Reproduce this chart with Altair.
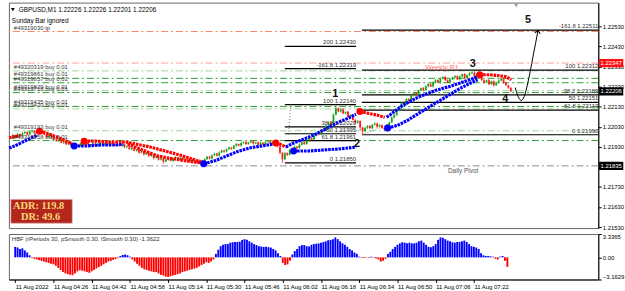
import json
import altair as alt
import pandas as pd

FONT = "Liberation Sans"

# ---------------- data ----------------
# GBPUSD M1 closes, one per minute starting 11 Aug 04:10 (open = previous close)
first_open = 1.21975
closes = [
    1.21972, 1.21988, 1.21978, 1.21994, 1.21983, 1.21998, 1.22004, 1.21991, 1.22006, 1.22010,
    1.21996, 1.22008, 1.22012,
    1.21998, 1.21990, 1.21978, 1.21994, 1.21976, 1.21968, 1.21958, 1.21966, 1.21950, 1.21957,
    1.21942, 1.21952, 1.21936,
    1.21928, 1.21940, 1.21934, 1.21948, 1.21938, 1.21950, 1.21942, 1.21934, 1.21946, 1.21937,
    1.21944, 1.21950, 1.21940, 1.21948, 1.21938, 1.21952, 1.21943, 1.21936, 1.21946, 1.21935,
    1.21942, 1.21928,
    1.21932, 1.21918, 1.21924, 1.21910, 1.21916, 1.21900, 1.21908, 1.21892, 1.21898, 1.21884,
    1.21890, 1.21874, 1.21880, 1.21866, 1.21872, 1.21856,
    1.21866, 1.21874, 1.21860, 1.21870, 1.21878, 1.21864, 1.21876, 1.21866, 1.21872, 1.21858,
    1.21866, 1.21854, 1.21860, 1.21852, 1.21862, 1.21856,
    1.21868, 1.21880, 1.21872, 1.21888, 1.21896, 1.21886, 1.21902, 1.21912, 1.21906, 1.21918,
    1.21926, 1.21920, 1.21936, 1.21944, 1.21936, 1.21948, 1.21954, 1.21944, 1.21952,
    1.21958, 1.21946, 1.21952, 1.21940, 1.21950, 1.21942, 1.21954, 1.21958, 1.21946, 1.21955,
    1.21948,
    1.21932, 1.21900, 1.21868, 1.21898, 1.21890, 1.21914, 1.21908, 1.21930, 1.21924, 1.21940,
    1.21952, 1.21944, 1.21962, 1.21974, 1.21966, 1.21986, 1.21998, 1.21992, 1.22016, 1.22010,
    1.22036, 1.22052, 1.22044, 1.22090, 1.22122,
    1.22106, 1.22116, 1.22096, 1.22104, 1.22080, 1.22088, 1.22064, 1.22050, 1.22058, 1.22026,
    1.22008, 1.22024, 1.22034, 1.22022, 1.22040, 1.22046, 1.22030, 1.22038, 1.22024, 1.22016,
    1.22038, 1.22052, 1.22076, 1.22088, 1.22110, 1.22124, 1.22150, 1.22142, 1.22168, 1.22160,
    1.22184, 1.22198, 1.22188, 1.22210, 1.22222, 1.22212, 1.22232, 1.22242, 1.22230, 1.22250,
    1.22262, 1.22250, 1.22270, 1.22278, 1.22262, 1.22250, 1.22266, 1.22276, 1.22282, 1.22266,
    1.22280, 1.22292, 1.22272, 1.22286, 1.22296, 1.22300, 1.22282, 1.22294, 1.22286, 1.22262,
    1.22250, 1.22262, 1.22242, 1.22256, 1.22236, 1.22250, 1.22260, 1.22270, 1.22250, 1.22236,
    1.22224, 1.22206,
]
# wick lengths in points (0.00001) above / below each body
upper_wick = [
    4, 6, 3, 5, 2, 7, 4, 3, 6, 5, 2, 4, 5, 3, 6, 2, 5, 3, 4, 6,
    3, 5, 2, 4, 6, 3, 5, 2, 6, 4, 3, 5, 4, 2, 6, 3, 5, 4, 2, 5,
    6, 3, 4, 5, 2, 4, 6, 3, 5, 2, 4, 6, 3, 5, 4, 2, 6, 3, 5, 4,
    3, 5, 2, 6, 4, 3, 5, 4, 6, 2, 5, 3, 4, 6, 2, 5, 3, 4, 6, 3,
    5, 4, 6, 3, 5, 2, 6, 4, 3, 5, 6, 4, 3, 5, 2, 6, 4, 5, 3, 6,
    4, 3, 5, 6, 2, 4, 5, 3, 6, 4, 5, 8, 3, 6, 4, 5, 3, 6, 4, 5,
    3, 6, 4, 5, 2, 6, 4, 3, 5, 6, 4, 5, 3, 6, 18, 5, 4, 6, 3, 5,
    4, 6, 3, 5, 4, 3, 6, 4, 5, 3, 6, 4, 5, 3, 4, 6, 3, 5, 4, 6,
    5, 3, 6, 4, 5, 3, 6, 4, 5, 3, 6, 4, 5, 3, 6, 5, 4, 6, 3, 5,
    4, 6, 3, 5, 4, 6, 3, 5, 4, 6, 12, 5, 3, 6, 4, 5, 3, 6, 4, 5,
    4, 6, 3, 5, 4, 3, 2,
]
lower_wick = [
    3, 5, 4, 2, 6, 3, 5, 4, 2, 6, 5, 3, 4, 6, 2, 5, 3, 6, 4, 2,
    5, 3, 6, 2, 4, 5, 3, 6, 4, 2, 5, 3, 6, 4, 5, 2, 6, 3, 4, 5,
    3, 6, 4, 2, 5, 3, 6, 4, 5, 2, 6, 3, 5, 4, 2, 6, 3, 5, 4, 6,
    2, 5, 4, 11, 3, 5, 2, 6, 4, 3, 5, 2, 6, 4, 3, 5, 9, 4, 2, 6,
    4, 3, 5, 6, 2, 4, 5, 3, 6, 4, 2, 5, 3, 6, 4, 5, 2, 6, 4, 3,
    5, 4, 6, 3, 5, 2, 4, 6, 3, 5, 4, 6, 18, 4, 6, 3, 5, 2, 6, 4,
    3, 5, 4, 6, 2, 5, 3, 6, 4, 5, 3, 6, 4, 5, 3, 4, 6, 3, 5, 4,
    6, 3, 5, 4, 12, 18, 4, 6, 3, 5, 4, 6, 3, 5, 8, 4, 6, 3, 5, 4,
    3, 5, 4, 6, 2, 5, 3, 4, 6, 3, 5, 4, 6, 3, 5, 4, 3, 6, 4, 5,
    3, 5, 4, 6, 3, 5, 4, 6, 3, 5, 4, 6, 3, 5, 4, 6, 3, 5, 4, 6,
    3, 5, 4, 6, 3, 5, 4,
]

# HBF histogram, one value per bar
hbf = [
    1.5, 1.4, 1.2, 1.3, 1.0, 0.7, 0.3, -0.1, -0.2, -0.3, -0.4, -0.5, -0.6, -0.7, -0.8, -0.9,
    -1.0, -1.2, -1.5, -1.8, -2.1, -2.3, -2.4, -2.5, -2.55, -2.3, -2.0, -1.85, -1.9, -2.0, -2.1,
    -2.2, -2.0, -1.8, -1.6, -1.4, -1.2, -1.0, -0.8, -0.6, -0.5, -0.35, -0.25, -0.1, 0.2, 0.35,
    0.4, 0.3, 0.1, -0.3, -0.6, -0.9, -1.2, -1.5, -1.7, -1.8, -1.9, -2.0, -2.1, -2.1, -2.3,
    -2.5, -2.6, -2.75, -2.8, -2.7, -2.6, -2.5, -2.4, -2.3, -2.1, -2.0, -1.9, -1.8, -1.7, -1.6,
    -1.5, -1.3, -1.1, -0.9, -0.7, -0.8, -0.6, -0.3, 0.5, 1.1, 1.6, 1.8, 1.9, 1.9, 2.1, 2.15,
    2.2, 2.2, 2.25, 2.5, 2.6, 2.5, 2.3, 2.1, 1.9, 1.75, 1.6, 1.55, 1.5, 1.5, 1.45, 1.4, 1.2,
    1.0, 0.6, 0.2, -0.8, -1.1, -1.0, -0.5, 0.4, 0.9, 1.2, 1.6, 1.75, 1.75, 1.6, 1.55, 1.8, 1.9,
    1.95, 2.0, 2.1, 2.2, 2.3, 2.45, 2.5, 2.6, 2.85, 2.6, 2.3, 2.0, 1.8, 1.5, 1.2, 1.0, 0.7, 0.5,
    0.1, -0.1, -0.1, -0.05, -0.1, 0.1, 0.05, -0.15, -0.3, -0.6, -0.5, -0.2, 0.5, 0.8, 1.2, 1.5,
    1.8, 2.0, 2.15, 2.1, 2.0, 2.1, 2.0, 2.0, 2.1, 2.3, 2.4, 2.1, 1.8, 1.5, 1.45, 1.6, 1.9, 2.5,
    2.85, 2.8, 2.6, 2.4, 2.3, 2.15, 2.1, 2.2, 2.2, 2.3, 2.4, 2.2, 1.9, 1.6, 1.5, 1.4, 1.2, 0.6,
    0.3, 0.2, 0.2, 0.15, 0.1, -0.2, -0.3, 0.1, 0.2, -0.5, -1.36,
]
hbf_min, hbf_max = -3.1629, 3.3365

time_ticks = [0, 16, 32, 48, 64, 80, 96, 112, 128, 144, 160, 176, 192]
time_labels = ["11 Aug 2022", "11 Aug 04:26", "11 Aug 04:42", "11 Aug 04:58", "11 Aug 05:14",
               "11 Aug 05:30", "11 Aug 05:46", "11 Aug 06:02", "11 Aug 06:18", "11 Aug 06:34",
               "11 Aug 06:50", "11 Aug 07:06", "11 Aug 07:22"]
price_ticks = [1.2153, 1.2163, 1.2173, 1.2193, 1.2203, 1.2213, 1.2223, 1.2233, 1.2243, 1.2253]

# horizontal order / level lines
level_price = [1.22504, 1.22347, 1.22308, 1.22271, 1.22249, 1.22210, 1.22200, 1.22131,
               1.22119, 1.22010, 1.21961, 1.21835]
level_color = ["#f4845f", "#ff9c9c", "#9fd49f", "#2e9e2e", "#2e9e2e", "#b5cdb5", "#2e9e2e",
               "#2e9e2e", "#9fd49f", "#9fd49f", "#2e9e2e", "#8c8c8c"]
level_label = ["#49319030 tp", "", "#49320319 buy 0.01", "#49319861 buy 0.01",
               "#49319857 buy 0.01", "#49319829 buy 0.01", "#49319718 buy 0.01",
               "#49319435 buy 0.01", "#49319420 buy 0.01", "#49319193 buy 0.01",
               "#49319058 buy 0.01", ""]

# Fibonacci objects
fib1_text = ["100  1.22140", "38.2  1.22029", "50  1.21995", "61.8  1.21961", "0  1.21850",
             "-161.8  1.22319", "200  1.22430"]
fib1_price = [1.22140, 1.22029, 1.21995, 1.21961, 1.21850, 1.22319, 1.22430]
fib1_span = [113.0, 142.3]
fib2_text = ["-161.8  1.22511", "100  1.22312", "38.2  1.22189", "50  1.22151",
             "61.8  1.22113", "0  1.21990"]
fib2_price = [1.22511, 1.22312, 1.22189, 1.22151, 1.22113, 1.21990]
fib2_span = [144.7, 242.0]
fib_trend_x = [115.4, 114.5, 144.7, 155.9]
fib_trend_p = [1.22140, 1.21990, 1.21990, 1.22042]
fib_trend_id = ["a", "a", "b", "b"]

# trend lines (blue = rising, red = falling), by segment
ma_seg = (["R0"] * 2 + ["A"] * 5 + ["B"] * 5 + ["C"] * 5 + ["D"] * 10 + ["E"] * 8 + ["F"] * 7
          + ["G"] * 3 + ["H"] * 8 + ["I"] * 6 + ["J"] * 4 + ["K"] * 8 + ["L"] * 8 + ["M"] * 5)
ma_x = [-0.5, 4.0,
        -0.5, 1.9, 5.1, 8.4, 11.2,
        12.0, 14.9, 18.2, 21.4, 25.5,
        26.3, 31.2, 37.3, 43.4, 46.6,
        30.4, 35.2, 41.4, 47.5, 51.5, 57.6, 63.7, 69.8, 75.9, 79.2,
        48.3, 52.3, 56.4, 60.5, 64.5, 69.8, 75.1, 78.4,
        79.6, 84.1, 88.2, 93.0, 98.3, 103.6, 108.5,
        109.3, 110.9, 113.4,
        113.4, 116.6, 120.7, 124.8, 128.9, 134.1, 139.0, 142.3,
        116.6, 122.8, 128.9, 135.0, 139.0, 142.3,
        143.9, 147.2, 151.2, 154.1,
        154.9, 158.2, 161.4, 167.5, 174.8, 181.8, 187.9, 192.3,
        155.3, 159.4, 163.5, 168.7, 174.8, 180.9, 186.5, 192.3,
        193.2, 197.2, 201.3, 204.1, 206.2]
ma_p = [1.21975, 1.21985,
        1.21924, 1.21934, 1.21954, 1.21973, 1.21988,
        1.22008, 1.21998, 1.21983, 1.21968, 1.21944,
        1.21934, 1.21934, 1.21939, 1.21939, 1.21944,
        1.21958, 1.21958, 1.21954, 1.21954, 1.21944, 1.21929, 1.21909, 1.21889, 1.21865, 1.21850,
        1.21944, 1.21924, 1.21904, 1.21885, 1.21875, 1.21865, 1.21855, 1.21850,
        1.21845, 1.21860, 1.21880, 1.21904, 1.21924, 1.21934, 1.21944,
        1.21949, 1.21944, 1.21929,
        1.21929, 1.21949, 1.21968, 1.21988, 1.22013, 1.22047, 1.22072, 1.22092,
        1.21909, 1.21909, 1.21914, 1.21919, 1.21924, 1.21929,
        1.22106, 1.22097, 1.22087, 1.22077,
        1.22077, 1.22106, 1.22136, 1.22175, 1.22210, 1.22234, 1.22259, 1.22279,
        1.22023, 1.22037, 1.22062, 1.22101, 1.22146, 1.22190, 1.22230, 1.22264,
        1.22289, 1.22289, 1.22284, 1.22279, 1.22264]
seg_color = {"R0": "#ff0000", "A": "#0000ff", "B": "#ff0000", "C": "#0000ff", "D": "#ff0000",
             "E": "#ff0000", "F": "#0000ff", "G": "#ff0000", "H": "#0000ff", "I": "#0000ff",
             "J": "#ff0000", "K": "#0000ff", "L": "#0000ff", "M": "#ff0000"}
dot_segs = ["B", "C", "D", "F", "G", "I", "J", "L", "M"]

wave_text = ["1", "2", "3", "4", "5"]
wave_x = [133.7, 142.7, 190.3, 203.7, 213.1]
wave_p = [1.22194, 1.21944, 1.22343, 1.22170, 1.22560]

arrow_x = [207.8, 209.0, 210.3, 211.5, 213.1, 215.1, 217.2]
arrow_p = [1.22225, 1.22180, 1.22161, 1.22180, 1.22254, 1.22377, 1.22510]

tag_price = [1.22347, 1.22206, 1.21835]
tag_color = ["#ff1010", "#000000", "#000000"]

header = "GBPUSD,M1  1.22226 1.22226 1.22201 1.22206"
subheader = "Sunday Bar ignored"
hbf_title = "HBF  (rPeriods 30, pSmooth 0.30, lSmooth 0.30)   -1.3622"

# ---------------- frames ----------------
opens = [first_open] + closes[:-1]
bars = pd.DataFrame({"x": list(range(len(closes))), "open": opens, "close": closes,
                     "uw": upper_wick, "lw": lower_wick})
bars["high"] = bars[["open", "close"]].max(axis=1) + bars["uw"] * 1e-5
bars["low"] = bars[["open", "close"]].min(axis=1) - bars["lw"] * 1e-5
bars["col"] = ["#16a816" if c >= o else "#ff1a1a" for o, c in zip(opens, closes)]

levels = pd.DataFrame({"y": level_price, "col": level_color, "label": level_label})
fib1 = pd.DataFrame({"y": fib1_price, "t": fib1_text, "x": fib1_span[0], "x2": fib1_span[1]})
fib2 = pd.DataFrame({"y": fib2_price, "t": fib2_text, "x": fib2_span[0], "x2": fib2_span[1]})
fibs = pd.concat([fib1, fib2])
trend = pd.DataFrame({"x": fib_trend_x, "y": fib_trend_p, "id": fib_trend_id})
ma = pd.DataFrame({"x": ma_x, "y": ma_p, "seg": ma_seg})
ma["col"] = ma["seg"].map(seg_color)
ma["o"] = range(len(ma))
dots = ma.groupby("seg", sort=False).head(1)
dots = dots[dots["seg"].isin(dot_segs)]
waves = pd.DataFrame({"x": wave_x, "y": wave_p, "t": wave_text})
arrow = pd.DataFrame({"x": arrow_x, "y": arrow_p})
tags = pd.DataFrame({"y": tag_price, "col": tag_color, "t": [f"{p:.5f}" for p in tag_price]})
hist = pd.DataFrame({"x": list(range(len(hbf))), "v": hbf})
hist["col"] = ["#0000ff" if v >= 0 else "#ff0000" for v in hbf]

# ---------------- scales ----------------
xs = alt.Scale(domain=[-0.57, 242.0], nice=False, zero=False)
ys = alt.Scale(domain=[1.215251, 1.226482], nice=False, zero=False)
yaxis = alt.Axis(orient="right", values=price_ticks, format=".5f", labelFontSize=6,
                 labelFont=FONT, labelColor="#000", tickSize=3, tickColor="#000",
                 domainColor="#000", labelPadding=1, grid=False, title=None)


def X(f="x"):
    return alt.X(f"{f}:Q", scale=xs, axis=None)


def Y(f="y"):
    return alt.Y(f"{f}:Q", scale=ys, axis=yaxis)


level_rules = alt.Chart(levels).mark_rule(strokeDash=[7, 3, 2, 3], strokeWidth=1).encode(
    y=Y(), color=alt.Color("col:N", scale=None))
level_text = alt.Chart(levels[levels["label"] != ""]).mark_text(
    align="left", baseline="bottom", dy=-1, fontSize=6, font=FONT, color="#3a3a3a").encode(
    x=alt.value(5), y=Y(), text="label:N")
r1_text = alt.Chart(levels.iloc[[1]]).mark_text(
    align="left", baseline="top", dy=1, fontSize=7, font=FONT, color="#ff7070").encode(
    x=alt.value(421), y=Y(), text=alt.value("Weekly R1"))
pivot_text = alt.Chart(levels.iloc[[11]]).mark_text(
    align="left", baseline="top", dy=2, fontSize=6.5, font=FONT, color="#555").encode(
    x=alt.value(444), y=Y(), text=alt.value("Daily Pivot"))

fib_rules = alt.Chart(fibs).mark_rule(color="#000", strokeWidth=1.2).encode(
    x=X(), x2="x2:Q", y=Y())
fib_text = alt.Chart(fibs).mark_text(
    align="right", baseline="bottom", dy=-1, fontSize=6, font=FONT, color="#333").encode(
    x=X("x2"), y=Y(), text="t:N")
trend_lines = alt.Chart(trend).mark_line(color="#777", strokeDash=[1, 2], strokeWidth=1).encode(
    x=X(), y=Y(), detail="id:N")

wick_rules = alt.Chart(bars).mark_rule(strokeWidth=0.8).encode(
    x=X(), y=Y("high"), y2="low:Q", color=alt.Color("col:N", scale=None))
candles = alt.Chart(bars).mark_rule(strokeWidth=1.8).encode(
    x=X(), y=Y("open"), y2="close:Q", color=alt.Color("col:N", scale=None))

ma_lines = alt.Chart(ma).mark_line(strokeWidth=3.2, strokeDash=[2.6, 0.9]).encode(
    x=X(), y=Y(), detail="seg:N", order="o:Q", color=alt.Color("col:N", scale=None))
ma_dots = alt.Chart(dots).mark_circle(size=50, opacity=1).encode(
    x=X(), y=Y(), color=alt.Color("col:N", scale=None))

wave_text_l = alt.Chart(waves).mark_text(
    fontSize=11, fontWeight="bold", font=FONT, color="#111", baseline="middle").encode(
    x=X(), y=Y(), text="t:N")
arrow_line = alt.Chart(arrow).mark_line(color="#000", strokeWidth=1, interpolate="monotone").encode(
    x=X(), y=Y())
arrow_head = alt.Chart(arrow.tail(1)).mark_point(
    shape="M-0.8,0.9 L0,0 L0.8,0.9", filled=False, size=45, strokeWidth=1.1, color="#000",
    angle=10, opacity=1).encode(x=X(), y=Y())

tag_box = alt.Chart(tags).mark_point(
    shape="M-1,-0.34 L1,-0.34 L1,0.34 L-1,0.34 Z", filled=True, size=600, opacity=1).encode(
    x=alt.value(609), y=Y(), color=alt.Color("col:N", scale=None))
tag_text = alt.Chart(tags).mark_text(
    fontSize=6, font=FONT, color="white", baseline="middle", align="center").encode(
    x=alt.value(609), y=Y(), text="t:N")

one = alt.Data(values=[{"h": header, "s": subheader, "a": "ADR: 119.8", "d": "DR: 49.6"}])
hdr_tri = alt.Chart(one).mark_point(shape="triangle-down", filled=True, size=14,
                                    color="#000", opacity=1).encode(
    x=alt.value(4), y=alt.value(7))
hdr = alt.Chart(one).mark_text(align="left", baseline="middle", fontSize=6.5, font=FONT,
                               color="#000").encode(x=alt.value(10), y=alt.value(8), text="h:N")
sub = alt.Chart(one).mark_text(align="left", baseline="middle", fontSize=6.5, font=FONT,
                               color="#000").encode(x=alt.value(3), y=alt.value(19), text="s:N")
shift_tri = alt.Chart(one).mark_point(shape="triangle-down", filled=True, size=18,
                                      color="#a0a0a0", opacity=1).encode(
    x=alt.value(513), y=alt.value(3))
adr_box = alt.Chart(one).mark_rect(color="#b3261e", stroke="#d9a0a0", strokeWidth=0.6).encode(
    x=alt.value(2), x2=alt.value(64), y=alt.value(199), y2=alt.value(223))
adr_t1 = alt.Chart(one).mark_text(fontSize=10.5, fontWeight="bold", font="Liberation Serif",
                                  color="#f7d774", baseline="middle").encode(
    x=alt.value(30), y=alt.value(206), text="a:N")
adr_t2 = alt.Chart(one).mark_text(fontSize=10.5, fontWeight="bold", font="Liberation Serif",
                                  color="#f7d774", baseline="middle").encode(
    x=alt.value(32), y=alt.value(217), text="d:N")

main = alt.layer(
    level_rules, fib_rules, trend_lines, wick_rules, candles, ma_lines, ma_dots,
    level_text, r1_text, pivot_text, fib_text, wave_text_l, arrow_line, arrow_head,
    tag_box, tag_text, hdr_tri, hdr, sub, shift_tri, adr_box, adr_t1, adr_t2,
).properties(width=596, height=228)

label_js = json.dumps(time_labels) + "[round(datum.value / 16)]"
xaxis = alt.Axis(values=time_ticks, labelExpr=label_js, labelAlign="left", labelFontSize=6,
                 labelFont=FONT, labelColor="#000", tickSize=3, tickColor="#000",
                 domainColor="#000", labelPadding=1, labelFlush=False, labelOverlap=False,
                 grid=False, title=None)
hyaxis = alt.Axis(orient="right", values=[hbf_max, 0, hbf_min],
                  labelExpr="datum.value == 0 ? '0.00' : format(datum.value, '.4f')",
                  labelFontSize=6, labelFont=FONT, labelColor="#000", tickSize=3,
                  tickColor="#000", domainColor="#000", labelPadding=1, labelFlush=True,
                  grid=False, title=None)
hs = alt.Scale(domain=[hbf_min, hbf_max], nice=False, zero=False)

ind_bars = alt.Chart(hist).mark_bar(size=1.9).encode(
    x=alt.X("x:Q", scale=xs, axis=xaxis),
    y=alt.Y("v:Q", scale=hs, axis=hyaxis),
    color=alt.Color("col:N", scale=None))
ind_title = alt.Chart(alt.Data(values=[{"t": hbf_title}])).mark_text(
    align="left", baseline="middle", fontSize=6, font=FONT, color="#333").encode(
    x=alt.value(3), y=alt.value(5), text="t:N")
ind = alt.layer(ind_bars, ind_title).properties(width=596, height=46)

chart = alt.vconcat(main, ind, spacing=2).properties(
    padding={"left": 2, "top": 0, "right": 0, "bottom": 0},
    background="white",
).configure_view(stroke="#666", strokeWidth=1)

chart.save("out.html", embed_options={"renderer": "svg", "actions": False})
